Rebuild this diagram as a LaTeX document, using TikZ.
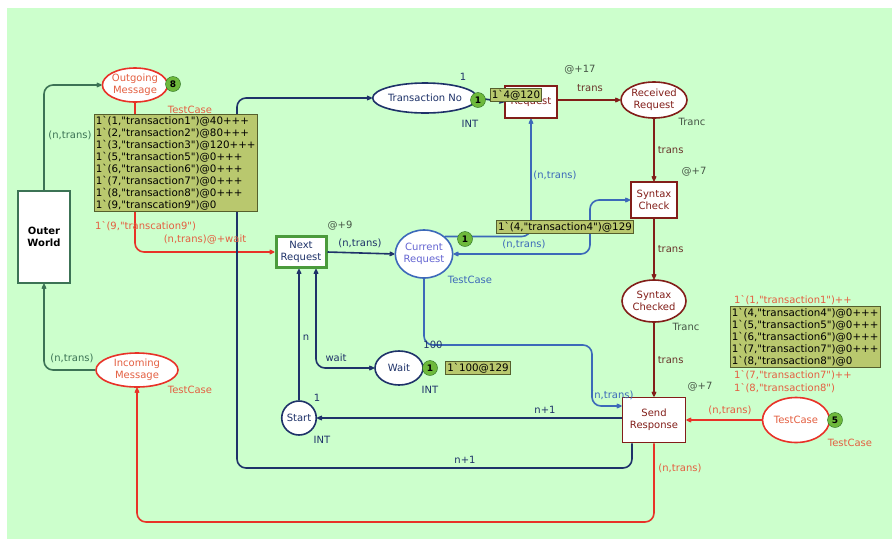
\documentclass[tikz,border=0pt]{standalone}
\usepackage{fontspec}
\setmainfont{DejaVu Sans}[Ligatures=TeXOff]
\usetikzlibrary{arrows.meta,positioning,shapes.geometric}
\definecolor{bggreen}{RGB}{204,255,204}
\definecolor{navy}{RGB}{30,50,105}
\definecolor{netblue}{RGB}{60,105,185}
\definecolor{lightblue}{RGB}{100,100,210}
\definecolor{darkred}{RGB}{130,30,25}
\definecolor{netred}{RGB}{232,50,40}
\definecolor{labred}{RGB}{228,95,65}
\definecolor{envline}{RGB}{60,115,85}
\definecolor{inscr}{RGB}{70,85,70}
\definecolor{tokgreen}{RGB}{110,185,60}
\definecolor{tokline}{RGB}{40,110,30}
\definecolor{markfill}{RGB}{185,200,110}
\definecolor{markline}{RGB}{85,95,45}
\definecolor{boxgreen}{RGB}{75,155,60}

\begin{document}
\begin{tikzpicture}[x=1pt, y=-1pt, font=\fontsize{10}{12}\selectfont, >={Stealth[round, length=7pt, width=6.5pt]},
  place/.style={ellipse, draw, line width=1.6pt, fill=white, align=center, inner sep=0pt},
  transbox/.style={rectangle, draw, line width=1.6pt, fill=white, align=center, inner sep=0pt},
  tok/.style={circle, draw=tokline, fill=tokgreen, inner sep=0pt, minimum size=15pt, font=\fontsize{9}{10}\selectfont\bfseries},
  marking/.style={draw=markline, line width=0.8pt, fill=markfill, align=left, inner sep=1.5pt, text=black, font=\fontsize{10.3}{12}\selectfont},
  netarc/.style={->, line width=1.6pt, rounded corners=9pt},
  lab/.style={inner sep=1pt}]
\fill[bggreen] (7,8) rectangle (892,539);
\useasboundingbox (0,0) rectangle (892,539);

% environment
\node[transbox, draw=envline, minimum width=52, minimum height=92, font=\fontsize{10}{12}\selectfont\bfseries] (world) at (44,237) {Outer\\World};
\node[place, draw=netred, text=labred, minimum width=62, minimum height=34] (outmsg) at (135,85) {Outgoing\\Message};
\node[place, draw=netred, text=labred, minimum width=82, minimum height=34] (inmsg) at (137,370) {Incoming\\Message};

% request side
\node[transbox, draw=boxgreen, line width=3pt, text=navy, minimum width=50, minimum height=31] (nextreq) at (301,252) {Next\\Request};
\node[place, draw=netblue, text=lightblue, minimum width=48, minimum height=48] (curreq) at (424,254) {Current\\Request};
\node[place, draw=navy, text=navy, minimum width=94, minimum height=30] (transno) at (425,98) {Transaction No};
\node[transbox, draw=darkred, text=darkred, minimum width=52, minimum height=32] (request) at (531,102) {Request};
\node[place, draw=navy, text=navy, minimum width=48, minimum height=34] (wait) at (399,368) {Wait};
\node[place, draw=navy, text=navy, minimum width=34, minimum height=34] (start) at (299,418) {Start};

% server side
\node[place, draw=darkred, text=darkred, minimum width=66, minimum height=36] (recvreq) at (654,100) {Received\\Request};
\node[transbox, draw=darkred, text=darkred, minimum width=46, minimum height=36] (synchk) at (654,200) {Syntax\\Check};
\node[place, draw=darkred, text=darkred, minimum width=64, minimum height=42] (synckd) at (654,301) {Syntax\\Checked};
\node[transbox, draw=darkred, text=darkred, minimum width=63, minimum height=45] (sendresp) at (654,420) {Send\\Response};
\node[place, draw=netred, text=labred, minimum width=67, minimum height=45] (testcase) at (796,420) {TestCase};

\coordinate (loopSW) at (237,468);
\coordinate (redbottom) at (0,522);
\coordinate (bendCS) at (590,0);
\coordinate (bendCR) at (592,345);

% arcs
\draw[netarc, envline] (world.north) |- (outmsg.west);
\draw[netarc, envline] (inmsg.west) -| (world.south);
\draw[netarc, netred] (outmsg.south) |- (nextreq.west);
\draw[netarc, netred] (testcase.west) -- (sendresp.east);
\draw[netarc, netred] (sendresp.south) |- (redbottom -| inmsg.south) -- (inmsg.south);
\draw[netarc, navy] ([xshift=-22pt]sendresp.south) |- (loopSW) |- (transno.west);
\draw[netarc, navy] (transno.east) -- (request.west);
\draw[netarc, navy] (nextreq.east) -- (curreq.west);
\draw[netarc, navy, <->] ([xshift=15pt]nextreq.south) |- (wait.west);
\draw[netarc, navy] (start.north) -- (start.north |- nextreq.south);
\draw[netarc, navy] (sendresp.west |- start.east) -- (start.east);
\draw[netarc, netblue] (curreq.north east) -| (request.south);
\draw[netarc, netblue, <->] (curreq.east) -| (bendCS |- synchk.west) -- (synchk.west);
\draw[netarc, netblue] (curreq.south) |- (bendCR) |- ([yshift=14pt]sendresp.west);
\draw[netarc, darkred] (request.east |- recvreq.west) -- (recvreq.west);
\foreach \a/\b in {recvreq/synchk, synchk/synckd, synckd/sendresp}
  \draw[netarc, darkred] (\a) -- (\b) node[lab, midway, right=2pt, text=darkred!60!inscr] {trans};

% arc inscriptions
\node[lab, text=envline] (lwout) at (70,135) {(n,trans)};
\node[lab, text=envline] (lwin) at (72,358) {(n,trans)};
\node[lab, text=labred] (lnext) at (205,240) {(n,trans)@+wait};
\node[lab, text=labred] (ltest) at (730,410) {(n,trans)};
\node[lab, text=labred] (lresp) at (680,468) {(n,trans)};
\node[lab, text=navy] (lloop) at (465,460) {n+1};
\node[lab, text=navy] (lstart) at (545,410) {n+1};
\node[lab, text=navy] (lcur) at (360,243) {(n,trans)};
\node[lab, text=navy] (lwait) at (336,358) {wait};
\node[lab, text=navy] (ln) at (306,338) {n};
\node[lab, text=netblue] (lreq) at (555,175) {(n,trans)};
\node[lab, text=netblue] (lchk) at (524,244) {(n,trans)};
\node[lab, text=netblue] (lsend) at (612,395) {(n,trans)};
\node[lab, text=darkred!60!inscr] (lrecv) at (590,88) {trans};

% time delays, types and initial markings
\node[lab, text=inscr] (d17) at (580,70) {@+17};
\node[lab, text=inscr] (d9) at (340,226) {@+9};
\node[lab, text=inscr] (d7a) at (694,172) {@+7};
\node[lab, text=inscr] (d7b) at (700,387) {@+7};
\node[lab, text=labred] (tyout) at (190,110) {TestCase};
\node[lab, text=labred] (tyin) at (190,390) {TestCase};
\node[lab, text=labred] (tytest) at (850,443) {TestCase};
\node[lab, text=netblue] (tycur) at (470,280) {TestCase};
\node[lab, text=inscr] (tyrecv) at (692,122) {Tranc};
\node[lab, text=inscr] (tyckd) at (686,327) {Tranc};
\node[lab, text=navy] (tyno) at (470,124) {INT};
\node[lab, text=navy] (tywait) at (430,390) {INT};
\node[lab, text=navy] (tystart) at (322,440) {INT};
\node[lab, text=navy] (inno) at (463,77) {1};
\node[lab, text=navy] (inwait) at (433,345) {100};
\node[lab, text=navy] (instart) at (317,398) {1};
\node[lab, text=labred, anchor=west] (inout) at (94,226) {1`(9,"transcation9")};
\node[lab, text=labred, anchor=west] (intest1) at (733,300) {1`(1,"transaction1")++};
\node[lab, text=labred, anchor=west] (intest7) at (733,375) {1`(7,"transaction7")++};
\node[lab, text=labred, anchor=west] (intest8) at (733,388) {1`(8,"transaction8")};

% current markings
\node[marking, anchor=north west] (mout) at (94,114) {1`(1,"transaction1")@40+++\\1`(2,"transaction2")@80+++\\1`(3,"transaction3")@120+++\\1`(5,"transaction5")@0+++\\1`(6,"transaction6")@0+++\\1`(7,"transaction7")@0+++\\1`(8,"transaction8")@0+++\\1`(9,"transcation9")@0};
\node[marking, anchor=north west] (mtest) at (730,306) {1`(4,"transaction4")@0+++\\1`(5,"transaction5")@0+++\\1`(6,"transaction6")@0+++\\1`(7,"transaction7")@0+++\\1`(8,"transaction8")@0};
\node[marking] (mno) at (516,95) {1`4@120};
\node[marking] (mcur) at (565,227) {1`(4,"transaction4")@129};
\node[marking] (mwait) at (478,368) {1`100@129};
\node[tok] (kout) at (173,84) {8};
\node[tok] (kno) at (478,100) {1};
\node[tok] (kcur) at (465,239) {1};
\node[tok] (kwait) at (430,368) {1};
\node[tok] (ktest) at (835,420) {5};
\end{tikzpicture}
\end{document}
